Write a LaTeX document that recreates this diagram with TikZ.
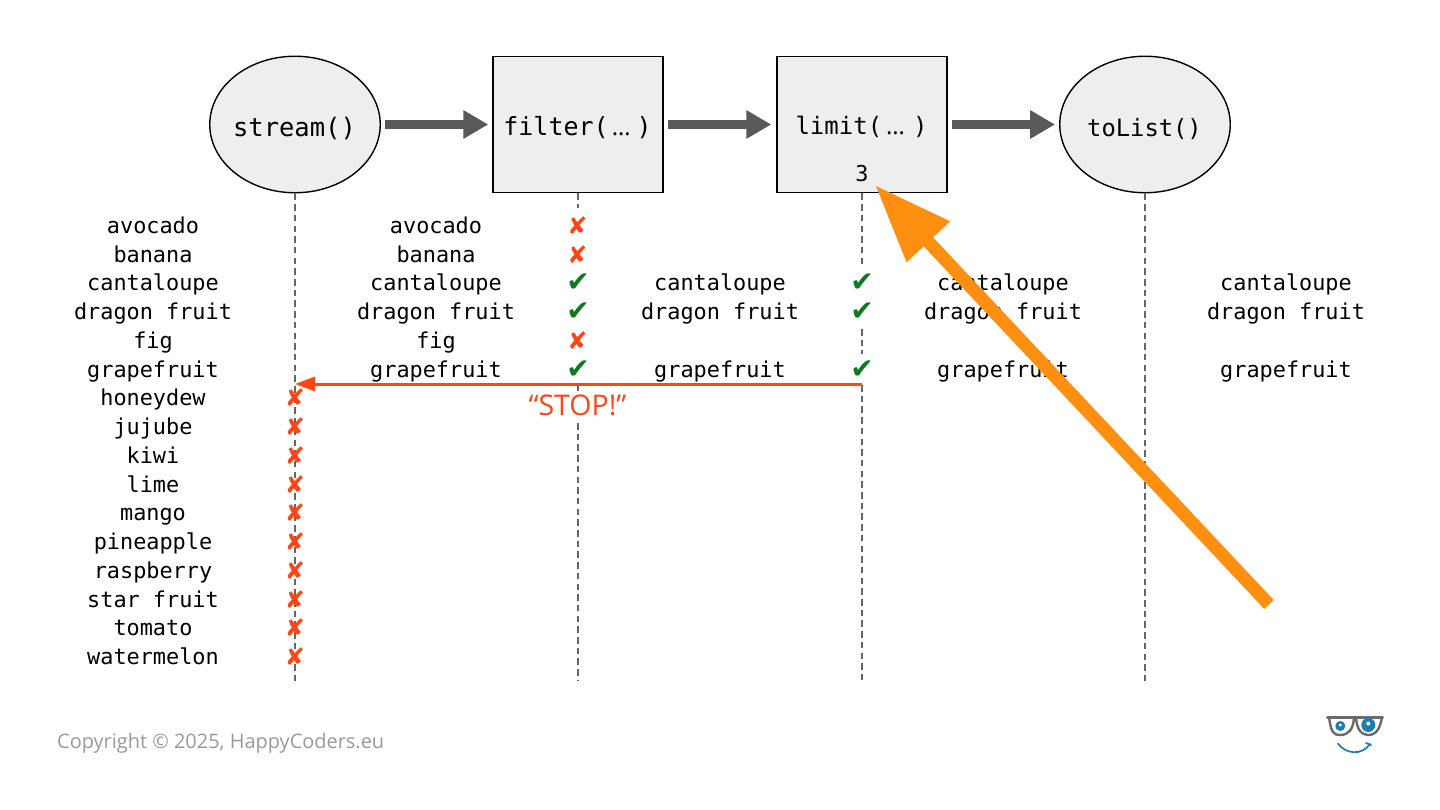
\documentclass[tikz,border=0pt]{standalone}
\usepackage{fontspec}
\setmainfont{Open Sans}
\newfontfamily\monof{DejaVu Sans Mono}
\newfontfamily\markf{DejaVu Sans}
\usetikzlibrary{shapes.geometric,arrows.meta}
\definecolor{boxfill}{HTML}{EEEEEE}
\definecolor{flowgrey}{HTML}{595959}
\definecolor{dashgrey}{HTML}{666666}
\definecolor{stopred}{HTML}{FF4514}
\definecolor{okgreen}{HTML}{0B7A20}
\definecolor{hint}{HTML}{FF8F10}
\definecolor{logoblue}{HTML}{1A7FB0}
\newcommand{\dotsfont}{\fontsize{24}{26}\selectfont}
\tikzset{
  opshape/.style={draw=black,line width=1.4pt,fill=boxfill,inner sep=0pt,minimum height=136.5pt},
  opbox/.style={opshape,rectangle,minimum width=170pt},
  opell/.style={opshape,ellipse,minimum width=170.5pt},
  oplabel/.style={anchor=base,inner sep=0pt,text=black},
  item/.style={anchor=base,inner sep=0pt,font=\monof\fontsize{21.85}{26}\selectfont},
  lifeline/.style={draw=dashgrey,line width=1.6pt,dash pattern=on 6.5pt off 4.2pt},
  flow/.style={draw=flowgrey,line width=9pt,-{Triangle[length=25pt,width=27pt]},shorten <=4pt},
  nomark/.style={inner sep=0pt,text=stopred,font=\markf\fontsize{24}{26}\selectfont},
  yesmark/.style={inner sep=0pt,text=okgreen,font=\markf\fontsize{28}{30}\selectfont},
}
\begin{document}
\begin{tikzpicture}[x=1pt,y=-1pt]
\useasboundingbox (0,0) rectangle (1440,810);
% shapes
\node[opell] (stream) at (295,124.5) {};
\node[opbox] (filter) at (578,124.5) {};
\node[opbox] (limit) at (862,124.5) {};
\node[opell] (tolist) at (1145,124.5) {};
\node[oplabel,font=\monof\fontsize{25.5}{30}\selectfont] (lstream) at (294.5,137) {stream()};
\node[oplabel,font=\monof\fontsize{25}{30}\selectfont] (lfilter) at (577.5,136) {filter(\kern3pt{\rmfamily\dotsfont …}\kern6pt)};
\node[oplabel,font=\monof\fontsize{24}{30}\selectfont] (llimit) at (861.5,135) {limit(\kern4pt{\rmfamily\dotsfont …}\kern8pt)};
\node[oplabel,font=\monof\fontsize{23.8}{30}\selectfont] (ltolist) at (1144.5,136.5) {toList()};
\node[oplabel,font=\monof\fontsize{21.85}{26}\selectfont] (lthree) at (862,182) {3};
% flow arrows
\draw[flow,shorten >=4pt] (stream.east) -- (filter.west);
\draw[flow,shorten >=5pt] (filter.east) -- (limit.west);
\draw[flow,shorten >=4pt] (limit.east) -- (tolist.west);
% lifelines
\coordinate (e1) at (295,681);
\coordinate (e2) at (578,681);
\coordinate (e3) at (862,681);
\coordinate (e4) at (1145,681);
\coordinate (f1) at (578,208);
\coordinate (f2) at (578,385);
\coordinate (f3) at (578,391);
\coordinate (f4) at (578,423);
\coordinate (g1) at (862,267);
\coordinate (g2) at (862,329);
\coordinate (g3) at (862,354);
\coordinate (g4) at (862,385);
\draw[lifeline] (stream.south) -- (e1);
\draw[lifeline] (filter.south) -- (f1);
\draw[lifeline] (f2) -- (f3);
\draw[lifeline] (f4) -- (e2);
\draw[lifeline] (limit.south) -- (g1);
\draw[lifeline] (g2) -- (g3);
\draw[lifeline] (g4) -- (e3);
\draw[lifeline] (tolist.south) -- (e4);
% first column
\foreach \t [count=\i from 0] in {avocado,banana,cantaloupe,dragon fruit,fig,grapefruit,honeydew,jujube,kiwi,lime,mango,pineapple,raspberry,star fruit,tomato,watermelon}
  \node[item] (a\i) at (153,233.3+28.75*\i) {\t};
% second column
\foreach \t/\i in {avocado/0,banana/1,cantaloupe/2,dragon fruit/3,fig/4,grapefruit/5}
  \node[item] (b\i) at (436,233.3+28.75*\i) {\t};
% other columns
\foreach \t/\i in {cantaloupe/2,dragon fruit/3,grapefruit/5}{
  \node[item] (c\i) at (720,233.3+28.75*\i) {\t};
  \node[item] (d\i) at (1003,233.3+28.75*\i) {\t};
  \node[item] (z\i) at (1286,233.3+28.75*\i) {\t};
}
% marks
\foreach \i in {6,...,15}
  \node[nomark] (ma\i) at (295,225.5+28.75*\i) {✘};
\foreach \i in {0,1,4}
  \node[nomark] (mb\i) at (577.5,225.5+28.75*\i) {✘};
\foreach \i in {2,3,5}{
  \node[yesmark] (mb\i) at (578,225.5+28.75*\i) {✔};
  \node[yesmark] (mc\i) at (862,225.5+28.75*\i) {✔};
}
% stop
\coordinate (stopfrom) at (862,384);
\coordinate (stopto) at (295,384);
\draw[stopred,line width=3pt,-{Triangle[length=20pt,width=14pt]}] (stopfrom) -- (stopto);
\node[inner sep=0pt,anchor=base,text=stopred,font=\fontsize{28.5}{32}\selectfont] (stop) at (577.5,415) {“STOP!”};
% copyright
\node[anchor=base west,inner sep=0pt,text=black!40,font=\fontsize{19.95}{24}\selectfont] (copy) at (57,748) {Copyright © 2025, HappyCoders.eu};
% logo
\draw[flowgrey!90,line width=3pt,line join=round,line cap=round] (1327.5,717.5) -- (1382.5,717.5);
\draw[flowgrey!90,line width=2.4pt,line join=round] (1329,717) .. controls (1331,733) and (1334,735) .. (1340,735) .. controls (1349,735) and (1353,729) .. (1354,718) -- (1356,718) .. controls (1357,729) and (1361,735) .. (1368,735) .. controls (1376,735) and (1380,729) .. (1382,717);
\fill[logoblue] (1340.3,726) circle (5pt);
\fill[white] (1340.3,725) circle (1.6pt);
\fill[logoblue] (1368.3,725) circle (7pt);
\fill[white] (1368.3,723.5) circle (2pt);
\draw[logoblue,line width=1.7pt,line cap=round] (1338,743.5) .. controls (1345,754) and (1362,756) .. (1370,744);
\draw[logoblue,line width=1.7pt,line cap=round] (1366,743) -- (1371,745);
% orange arrow
\coordinate (hintfrom) at (1269,604.5);
\coordinate (hintto) at (875,185);
\draw[hint,line width=13pt,-{Triangle[length=78pt,width=56pt]}] (hintfrom) -- (hintto);
\end{tikzpicture}
\end{document}
